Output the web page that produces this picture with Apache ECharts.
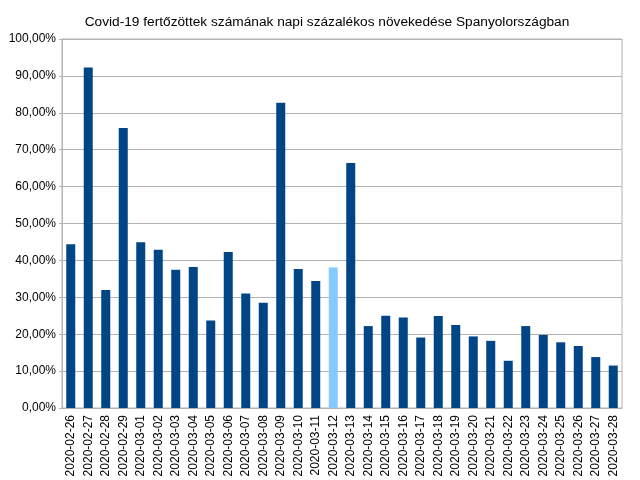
<!DOCTYPE html>
<html>
<head>
<meta charset="utf-8">
<script src="https://cdn.jsdelivr.net/npm/echarts@6/dist/echarts.min.js"></script>
<style>html,body{margin:0;padding:0;background:#fff}#c{width:640px;height:480px}</style>
</head>
<body>
<div id="c"></div>
<script>
const titleText = "Covid-19 fertőzöttek számának napi százalékos növekedése Spanyolországban";
const categories = ["2020-02-26","2020-02-27","2020-02-28","2020-02-29","2020-03-01","2020-03-02","2020-03-03","2020-03-04","2020-03-05","2020-03-06","2020-03-07","2020-03-08","2020-03-09","2020-03-10","2020-03-11","2020-03-12","2020-03-13","2020-03-14","2020-03-15","2020-03-16","2020-03-17","2020-03-18","2020-03-19","2020-03-20","2020-03-21","2020-03-22","2020-03-23","2020-03-24","2020-03-25","2020-03-26","2020-03-27","2020-03-28"];
const growthPct = [44.4,92.3,32.0,75.9,44.9,42.9,37.5,38.2,23.7,42.3,31.0,28.5,82.7,37.7,34.4,38.1,66.4,22.2,25.0,24.5,19.1,24.9,22.5,19.4,18.2,12.8,22.2,19.8,17.8,16.8,13.8,11.5];
const highlightCategory = "2020-03-12";

const chart = echarts.init(document.getElementById('c'), null, {renderer: 'canvas'});
const font = "'Liberation Sans', Arial, sans-serif";
chart.setOption({
  animation: false,
  backgroundColor: '#ffffff',
  title: {
    text: titleText,
    left: 322, top: 10, textAlign: 'center',
    textStyle: {fontFamily: font, fontSize: 13.7, fontWeight: 'normal', color: '#000'}
  },
  grid: {
    left: 62, right: 18, top: 39, bottom: 72,
    show: true, borderColor: '#b3b3b3', borderWidth: 1,
    outerBoundsMode: 'none'
  },
  xAxis: {
    type: 'category',
    data: categories,
    axisLine: {lineStyle: {color: '#b3b3b3'}},
    axisTick: {show: false},
    axisLabel: {
      rotate: 90, interval: 0, margin: 7,
      fontFamily: font, fontSize: 12, color: '#000'
    }
  },
  yAxis: {
    type: 'value', min: 0, max: 100, interval: 10,
    axisLine: {show: true, lineStyle: {color: '#b3b3b3'}},
    axisTick: {show: true, length: 3, lineStyle: {color: '#b3b3b3'}},
    splitLine: {lineStyle: {color: '#b3b3b3'}},
    axisLabel: {
      margin: 6, fontFamily: font, fontSize: 12, color: '#000',
      formatter: v => v.toFixed(2).replace('.', ',') + '%'
    }
  },
  series: [{
    type: 'bar',
    barWidth: 9,
    data: growthPct.map((v, i) => ({
      value: v,
      itemStyle: {color: categories[i] === highlightCategory ? '#83caff' : '#004586'}
    }))
  }]
});
</script>
</body>
</html>
